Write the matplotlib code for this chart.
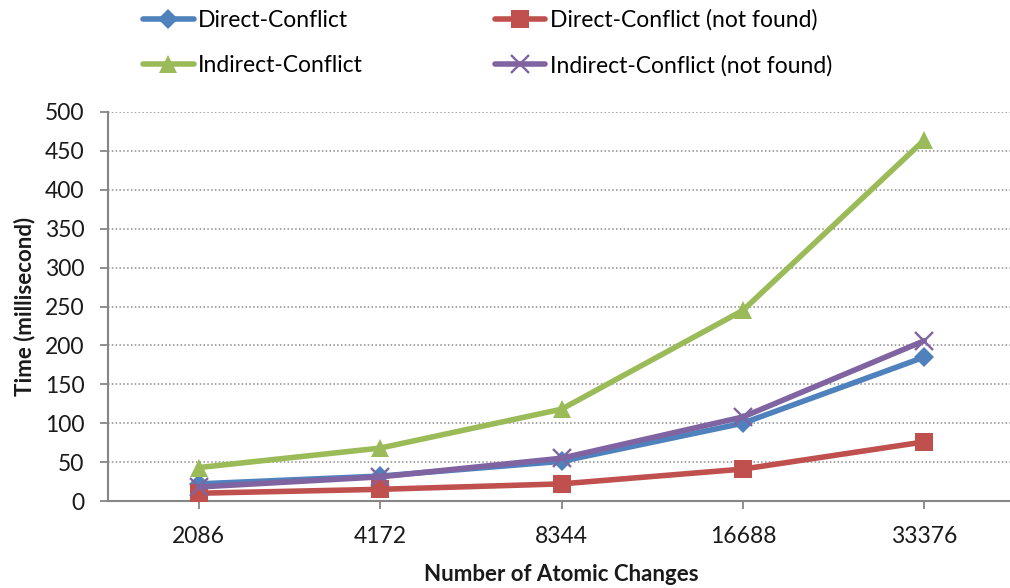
import matplotlib
matplotlib.use("Agg")
import matplotlib.pyplot as plt
from matplotlib.lines import Line2D

plt.rcParams['font.family'] = ['Lato', 'DejaVu Sans']

categories = ["2086", "4172", "8344", "16688", "33376"]
direct = [22, 32, 51, 100, 185]
direct_nf = [10, 15, 22, 41, 76]
indirect = [43, 68, 118, 245, 464]
indirect_nf = [18, 31, 55, 108, 206]

series_names = ["Direct-Conflict", "Direct-Conflict (not found)",
                "Indirect-Conflict", "Indirect-Conflict (not found)"]
colors = ["#4F81BD", "#C0504D", "#9BBB59", "#8064A2"]
markers = ["D", "s", "^", "x"]
msizes = [10.5, 13, 13, 13]

W, H = 1010, 588
fig = plt.figure(figsize=(W / 100, H / 100), dpi=100)
ax = fig.add_axes([108 / W, 1 - 501 / H, (1015 - 108) / W, (501 - 112) / H])

x = list(range(len(categories)))
handles = []
for vals, name, c, m, ms in zip([direct, direct_nf, indirect, indirect_nf],
                                series_names, colors, markers, msizes):
    kw = dict(color=c, lw=4.0, marker=m, markersize=ms, solid_capstyle='round',
              solid_joinstyle='round')
    if m == "x":
        kw.update(markeredgewidth=1.7)
    else:
        kw.update(markeredgewidth=0)
    ax.plot(x, vals, **kw, clip_on=False, zorder=3)
    handles.append(Line2D([], [], label=name, **kw))

ax.set_xlim(-0.5, 4.5)
ax.set_ylim(0, 500)
ax.set_yticks(range(0, 501, 50))
ax.set_xticks(x)
ax.set_xticklabels(categories)
ax.yaxis.grid(True, linestyle=(0, (1, 1.5)), color="#8c8c8c", lw=1.1)
ax.set_axisbelow(True)

for s in ["top", "right"]:
    ax.spines[s].set_visible(False)
for s in ["left", "bottom"]:
    ax.spines[s].set_color("#868686")
    ax.spines[s].set_linewidth(1.5)
ax.tick_params(axis='both', colors="#868686", width=1.3, length=6,
               labelsize=16.5, labelcolor="#1a1a1a")
ax.tick_params(axis='x', pad=12)
ax.tick_params(axis='y', pad=11)

ax.set_ylabel("Time (millisecond)", fontsize=16, fontweight='bold',
              color="#1a1a1a", labelpad=7)
ax.set_xlabel("Number of Atomic Changes", fontsize=16, fontweight='bold',
              color="#1a1a1a", labelpad=12)

order = [0, 2, 1, 3]
fig.legend([handles[i] for i in order], [series_names[i] for i in order],
           ncol=2, loc='upper left', bbox_to_anchor=(134 / W, 1 - 0 / H),
           frameon=False, fontsize=16.5, handlelength=2.2, handletextpad=0.2,
           columnspacing=5.75, labelspacing=1.05, borderaxespad=0)

fig.savefig("out.png", dpi=100)
